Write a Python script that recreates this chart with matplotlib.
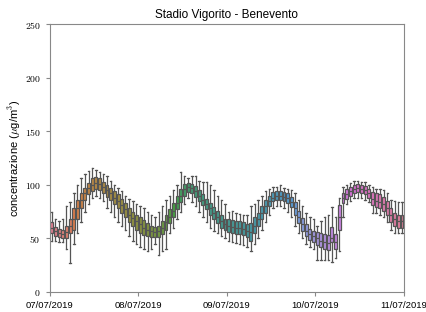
import matplotlib
matplotlib.use("Agg")
import matplotlib.pyplot as plt
import seaborn as sns

# ===== hourly stats (4 days x 24 hours) =====
med = [60, 57, 55, 54, 56, 62, 68, 78, 86, 92, 97, 100, 102, 101, 98, 95, 92, 88, 85, 81, 77, 72, 69, 66,
       63, 60, 58, 57, 56, 57, 60, 65, 70, 76, 83, 90, 96, 98, 97, 94, 90, 86, 82, 78, 74, 70, 66, 63,
       62, 61, 60, 60, 59, 57, 56, 62, 68, 74, 80, 85, 88, 90, 90, 89, 88, 84, 78, 70, 63, 57, 54, 52,
       50, 48, 47, 46, 50, 47, 70, 88, 91, 94, 96, 97, 96, 95, 92, 87, 85, 84, 82, 78, 72, 68, 66, 66]
q1 = [55, 52, 51, 50, 50, 55, 58, 68, 78, 86, 91, 94, 96, 95, 92, 89, 86, 82, 78, 74, 70, 65, 62, 58,
      55, 53, 52, 51, 51, 51, 54, 58, 64, 70, 77, 84, 90, 93, 92, 89, 85, 81, 77, 72, 68, 64, 60, 58,
      56, 55, 54, 54, 53, 51, 48, 55, 62, 68, 74, 80, 85, 86, 86, 85, 83, 79, 72, 64, 57, 52, 49, 47,
      44, 42, 40, 39, 47, 40, 58, 83, 87, 90, 92, 93, 92, 91, 88, 81, 79, 78, 76, 72, 65, 62, 60, 60]
q3 = [65, 61, 59, 58, 62, 68, 78, 86, 92, 97, 102, 106, 107, 106, 103, 100, 97, 94, 91, 87, 83, 78, 75, 72,
      70, 67, 64, 62, 61, 62, 66, 72, 77, 83, 90, 96, 101, 102, 101, 99, 95, 91, 87, 83, 79, 76, 72, 68,
      68, 67, 66, 66, 65, 63, 64, 70, 74, 80, 86, 90, 93, 94, 94, 93, 92, 89, 84, 76, 69, 63, 59, 57,
      56, 55, 54, 53, 61, 54, 81, 92, 96, 98, 100, 101, 100, 99, 96, 93, 92, 91, 89, 85, 78, 74, 72, 72]
w_lo = [48, 48, 47, 47, 40, 27, 45, 55, 65, 75, 82, 88, 90, 88, 85, 78, 75, 70, 65, 62, 58, 52, 48, 45,
        42, 40, 38, 40, 45, 35, 38, 40, 55, 60, 68, 75, 82, 88, 84, 80, 75, 70, 65, 60, 57, 55, 52, 50,
        48, 47, 46, 45, 44, 42, 38, 45, 50, 58, 65, 72, 78, 80, 80, 78, 75, 70, 62, 55, 50, 45, 42, 40,
        30, 30, 30, 30, 28, 32, 38, 70, 82, 85, 88, 88, 88, 86, 84, 74, 74, 72, 70, 65, 58, 55, 55, 55]
w_hi = [75, 68, 66, 68, 80, 84, 92, 100, 106, 110, 113, 116, 114, 112, 110, 108, 104, 100, 97, 94, 90, 87, 85, 82,
        80, 78, 75, 72, 70, 75, 80, 86, 90, 95, 100, 112, 108, 106, 108, 108, 104, 103, 103, 100, 95, 90, 86, 82,
        75, 76, 74, 73, 72, 72, 80, 82, 86, 90, 94, 96, 98, 98, 100, 97, 96, 95, 92, 86, 80, 74, 70, 68,
        62, 66, 70, 72, 79, 70, 88, 98, 100, 102, 104, 104, 103, 103, 100, 98, 96, 96, 95, 92, 86, 85, 84, 84]
day_labels = ["07/07/2019", "08/07/2019", "09/07/2019", "10/07/2019", "11/07/2019"]
y_ticks = [0, 50, 100, 150, 200, 250]

plt.rcParams["mathtext.fontset"] = "cm"
plt.rcParams["font.family"] = ["Liberation Sans", "DejaVu Sans"]

stats = []
for i in range(len(med)):
    stats.append({"med": med[i], "q1": q1[i], "q3": q3[i],
                  "whislo": w_lo[i], "whishi": w_hi[i], "fliers": []})

colors = sns.color_palette("husl", len(med), desat=0.75)

fig = plt.figure(figsize=(4.26, 3.12), dpi=100)
ax = fig.add_axes([0.117, 0.064, 0.831, 0.859])

line = dict(color="#555555", linewidth=0.9)
bp = ax.bxp(stats, positions=[i + 0.5 for i in range(len(med))], widths=0.8,
            patch_artist=True, showfliers=False,
            boxprops=dict(edgecolor="#555555", linewidth=0.9),
            whiskerprops=line, capprops=line, medianprops=line)
for patch, c in zip(bp["boxes"], colors):
    patch.set_facecolor(c)

ax.set_xlim(0, 96)
ax.set_ylim(0, 250)
ax.set_xticks([0, 24, 48, 72, 96])
ax.set_xticklabels(day_labels, fontsize=6.8)
ax.set_yticks(y_ticks)
ax.set_yticklabels(["$%d$" % v for v in y_ticks], fontsize=7)
for s in ax.spines.values():
    s.set_color("#888888")
ax.tick_params(colors="#888888", labelcolor="black", length=3, width=0.8)

ax.set_title("Stadio Vigorito - Benevento", fontsize=8.5, pad=4)
ax.set_ylabel(r"concentrazione ($\mu$g/m$^3$)", fontsize=8, labelpad=1)

fig.savefig("out.png", dpi=100)
